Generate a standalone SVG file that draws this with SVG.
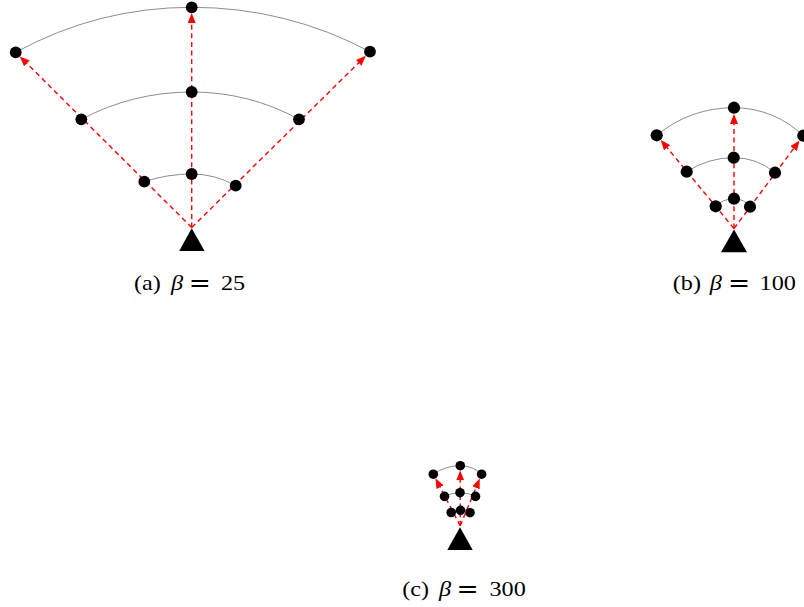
<svg xmlns="http://www.w3.org/2000/svg" width="804" height="607" viewBox="0 0 804 607">
<defs>
<style>
.arc{fill:none;stroke:#808080;stroke-width:0.9}
.ray{fill:none;stroke:#ff0000;stroke-width:1.4;stroke-dasharray:5 3.6;marker-end:url(#ah)}
.nd{fill:#000000}
.tri{fill:#000000}
.cap{font-family:"Liberation Serif","DejaVu Serif",serif;font-size:22px;fill:#000000}
.it{font-style:italic}
.eq{font-family:"DejaVu Serif","Liberation Serif",serif;font-size:24px}
</style>
<marker id="ah" markerUnits="userSpaceOnUse" viewBox="0 0 10 8" markerWidth="10" markerHeight="8" refX="8" refY="4" orient="auto">
<path d="M0,0 L10,4 L0,8 z" fill="#ff0000"/>
</marker>
</defs>
<rect width="804" height="607" fill="#ffffff"/>

<g id="connectors">
<path class="arc" d="M15.7,52.3 A366.7,366.7 0 0 1 191.7,7.3 A380,380 0 0 1 370,51.7"/>
<path class="arc" d="M81.3,119.3 A236.9,236.9 0 0 1 191.7,92 A224.5,224.5 0 0 1 299,119.3"/>
<path class="arc" d="M144.3,181.7 A149.7,149.7 0 0 1 191.7,174 A88.6,88.6 0 0 1 235.7,185.7"/>
<path class="arc" d="M656.7,135.3 A122,122 0 0 1 734,107.7 A99.8,99.8 0 0 1 803.3,135.7"/>
<path class="arc" d="M686.7,171.7 A85.9,85.9 0 0 1 733.7,157.7 A64.4,64.4 0 0 1 775,172.7"/>
<path class="arc" d="M715.7,206.3 A25.9,25.9 0 0 1 734,198.7 A20,20 0 0 1 750,206.7"/>
<path class="arc" d="M433.3,474.2 A47.1,47.1 0 0 1 460.3,465.7 A30.9,30.9 0 0 1 481.6,474.2"/>
<path class="arc" d="M444.5,496.4 A34.3,34.3 0 0 1 460,492.7 A34.3,34.3 0 0 1 475.5,496.4"/>
<path class="arc" d="M451.2,512.5 A20.8,20.8 0 0 1 460.5,510.3 A20,20 0 0 1 470,512.7"/>
<path class="ray" d="M191.7,227.5 L21.2,57.8"/>
<path class="ray" d="M191.7,227.5 L191.7,15.1"/>
<path class="ray" d="M191.7,227.5 L364.4,57.2"/>
<path class="ray" d="M734,228.5 L662,141.6"/>
<path class="ray" d="M734,228.5 L734,115.9"/>
<path class="ray" d="M734,228.5 L798.4,142.2"/>
<path class="ray" d="M460.2,525.8 L436.4,480.1"/>
<path class="ray" d="M460.2,525.8 L460.2,472.4"/>
<path class="ray" d="M460.2,525.8 L479,480.4"/>
</g>

<g id="a-origin"><polygon class="tri" points="191.7,228.3 179.2,251 204.6,251"/></g>
<g id="a-top-left"><circle class="nd" cx="15.7" cy="52.3" r="5.9"/></g>
<g id="a-top-center"><circle class="nd" cx="191.7" cy="7.3" r="5.9"/></g>
<g id="a-top-right"><circle class="nd" cx="370" cy="51.7" r="5.9"/></g>
<g id="a-mid-left"><circle class="nd" cx="81.3" cy="119.3" r="5.9"/></g>
<g id="a-mid-center"><circle class="nd" cx="191.7" cy="92" r="5.9"/></g>
<g id="a-mid-right"><circle class="nd" cx="299" cy="119.3" r="5.9"/></g>
<g id="a-in-left"><circle class="nd" cx="144.3" cy="181.7" r="5.9"/></g>
<g id="a-in-center"><circle class="nd" cx="191.7" cy="174" r="5.9"/></g>
<g id="a-in-right"><circle class="nd" cx="235.7" cy="185.7" r="5.9"/></g>

<g id="b-origin"><polygon class="tri" points="734,229.5 721,252.3 747,252.3"/></g>
<g id="b-top-left"><circle class="nd" cx="656.7" cy="135.3" r="6.1"/></g>
<g id="b-top-center"><circle class="nd" cx="734" cy="107.7" r="6.1"/></g>
<g id="b-top-right"><circle class="nd" cx="803.3" cy="135.7" r="6.1"/></g>
<g id="b-mid-left"><circle class="nd" cx="686.7" cy="171.7" r="6.1"/></g>
<g id="b-mid-center"><circle class="nd" cx="733.7" cy="157.7" r="6.1"/></g>
<g id="b-mid-right"><circle class="nd" cx="775" cy="172.7" r="6.1"/></g>
<g id="b-in-left"><circle class="nd" cx="715.7" cy="206.3" r="6.1"/></g>
<g id="b-in-center"><circle class="nd" cx="734" cy="198.7" r="6.1"/></g>
<g id="b-in-right"><circle class="nd" cx="750" cy="206.7" r="6.1"/></g>

<g id="c-origin"><polygon class="tri" points="460,527.3 447.3,550 472.7,550"/></g>
<g id="c-top-left"><circle class="nd" cx="433.3" cy="474.2" r="4.8"/></g>
<g id="c-top-center"><circle class="nd" cx="460.3" cy="465.7" r="4.8"/></g>
<g id="c-top-right"><circle class="nd" cx="481.6" cy="474.2" r="4.8"/></g>
<g id="c-mid-left"><circle class="nd" cx="444.5" cy="496.4" r="4.8"/></g>
<g id="c-mid-center"><circle class="nd" cx="460" cy="492.7" r="4.8"/></g>
<g id="c-mid-right"><circle class="nd" cx="475.5" cy="496.4" r="4.8"/></g>
<g id="c-in-left"><circle class="nd" cx="451.2" cy="512.5" r="4.8"/></g>
<g id="c-in-center"><circle class="nd" cx="460.5" cy="510.3" r="4.8"/></g>
<g id="c-in-right"><circle class="nd" cx="470" cy="512.7" r="4.8"/></g>

<g id="caption-a"><text class="cap" transform="matrix(1.1 0 0 1 0 0)" y="290"><tspan x="121.8">(a)</tspan> <tspan class="it" x="155.5">β</tspan> <tspan class="eq" x="171.5" dy="0.8">=</tspan> <tspan x="200.9" dy="-0.8">25</tspan></text></g>
<g id="caption-b"><text class="cap" transform="matrix(1.1 0 0 1 0 0)" y="290"><tspan x="611.6">(b)</tspan> <tspan class="it" x="645.3">β</tspan> <tspan class="eq" x="661.9" dy="0.8">=</tspan> <tspan x="690.5" dy="-0.8">100</tspan></text></g>
<g id="caption-c"><text class="cap" transform="matrix(1.1 0 0 1 0 0)" y="596"><tspan x="365.6">(c)</tspan> <tspan class="it" x="399.1">β</tspan> <tspan class="eq" x="414.9" dy="0.8">=</tspan> <tspan x="445" dy="-0.8">300</tspan></text></g>
</svg>
